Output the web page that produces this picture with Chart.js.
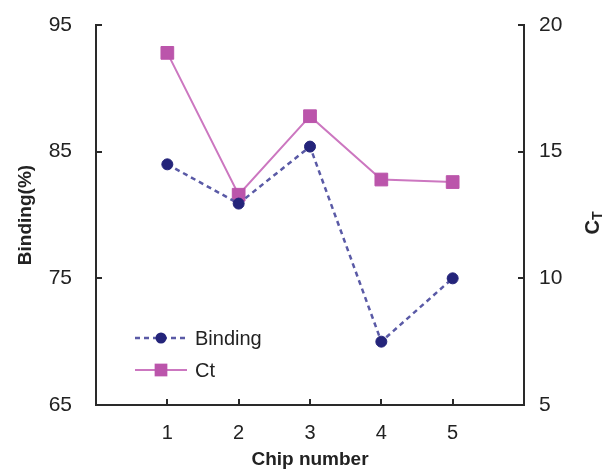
<!DOCTYPE html>
<html>
<head>
<meta charset="utf-8">
<script src="https://cdn.jsdelivr.net/npm/chart.js@4/dist/chart.umd.min.js"></script>
<style>
  html, body { margin: 0; padding: 0; background: #ffffff; }
  #wrap { width: 608px; height: 473px; position: relative; }
</style>
</head>
<body>
<div id="wrap"><canvas id="c" width="608" height="473"></canvas></div>
<script>
// ---- data ----
const chips = [1, 2, 3, 4, 5];
const bindingValues = [84.0, 80.9, 85.4, 70.0, 75.0];
const ctValues = [18.9, 13.3, 16.4, 13.9, 13.8];
const xTickLabels = [1, 2, 3, 4, 5];
const leftTicks = [65, 75, 85, 95];
const rightTicks = [5, 10, 15, 20];
const seriesNames = ['Binding', 'Ct'];
const xTitle = 'Chip number';
const leftTitle = 'Binding(%)';
const rightTitleMain = 'C';
const rightTitleSub = 'T';

const FONT = "'Liberation Sans', Arial, sans-serif";
const TXT = '#222222';
const AXIS = '#2a2a2a';
const NAVY = '#24247a';
const NAVY_LINE = '#5a5aa6';
const PINK = '#bb55ab';
const PINK_LINE = '#cc77c0';

const innerTicks = {
  id: 'innerTicks',
  afterDraw(chart) {
    const ctx = chart.ctx;
    const {x, y, y2} = chart.scales;
    const ca = chart.chartArea;
    const L = 6;
    ctx.save();
    ctx.strokeStyle = AXIS;
    ctx.lineWidth = 2;
    ctx.beginPath();
    xTickLabels.forEach(v => {
      const px = Math.round(x.getPixelForValue(v));
      ctx.moveTo(px, ca.bottom); ctx.lineTo(px, ca.bottom - L);
    });
    leftTicks.forEach(v => {
      const py = Math.round(y.getPixelForValue(v));
      ctx.moveTo(ca.left, py); ctx.lineTo(ca.left + L, py);
    });
    rightTicks.forEach(v => {
      const py = Math.round(y2.getPixelForValue(v));
      ctx.moveTo(ca.right, py); ctx.lineTo(ca.right - L, py);
    });
    ctx.stroke();
    ctx.restore();
  }
};

const extras = {
  id: 'extras',
  afterDraw(chart) {
    const ctx = chart.ctx;
    const y2 = chart.scales.y2;
    // right axis title C_T, rotated, reading bottom-to-top
    ctx.save();
    const cx = 592, cy = (y2.top + y2.bottom) / 2 + 8;
    ctx.translate(cx, cy);
    ctx.rotate(-Math.PI / 2);
    ctx.fillStyle = TXT;
    ctx.textBaseline = 'alphabetic';
    ctx.font = "bold 20px " + FONT;
    const wC = ctx.measureText(rightTitleMain).width;
    ctx.font = "bold 14px " + FONT;
    const wT = ctx.measureText(rightTitleSub).width;
    const total = wC + wT;
    ctx.font = "bold 20px " + FONT;
    ctx.fillText(rightTitleMain, -total / 2, 7);
    ctx.font = "bold 14px " + FONT;
    ctx.fillText(rightTitleSub, -total / 2 + wC, 10);
    ctx.restore();

    // legend inside plot
    const ds = chart.data.datasets;
    const rows = [
      {i: 0, y: 338},
      {i: 1, y: 370}
    ];
    const x0 = 135, x1 = 187, tx = 195;
    rows.forEach(r => {
      const d = ds[r.i];
      ctx.save();
      ctx.strokeStyle = d.borderColor;
      ctx.lineWidth = d.borderWidth;
      ctx.setLineDash(d.borderDash || []);
      ctx.beginPath();
      ctx.moveTo(x0, r.y); ctx.lineTo(x1, r.y);
      ctx.stroke();
      ctx.setLineDash([]);
      ctx.fillStyle = d.pointBackgroundColor;
      ctx.strokeStyle = d.pointBorderColor;
      ctx.lineWidth = d.pointBorderWidth;
      ctx.beginPath();
      if (d.pointStyle === 'rect') {
        const s = d.pointRadius * Math.SQRT1_2;
        ctx.rect((x0 + x1) / 2 - s, r.y - s, 2 * s, 2 * s);
      } else {
        ctx.arc((x0 + x1) / 2, r.y, d.pointRadius, 0, Math.PI * 2);
      }
      ctx.fill();
      ctx.fillStyle = TXT;
      ctx.font = "20px " + FONT;
      ctx.textBaseline = 'middle';
      ctx.fillText(d.label, tx, r.y + 1);
      ctx.restore();
    });
  }
};

function fixV(w) {
  return s => { s.width = w; s.paddingTop = 0; s.paddingBottom = 0; };
}

new Chart(document.getElementById('c'), {
  type: 'line',
  data: {
    datasets: [
      {
        label: seriesNames[0],
        data: chips.map((c, i) => ({x: c, y: bindingValues[i]})),
        yAxisID: 'y',
        borderColor: NAVY_LINE,
        borderWidth: 2.5,
        borderDash: [5, 4],
        pointStyle: 'circle',
        pointRadius: 5.5,
        pointBackgroundColor: NAVY,
        pointBorderColor: NAVY,
        pointBorderWidth: 1,
        tension: 0,
        fill: false
      },
      {
        label: seriesNames[1],
        data: chips.map((c, i) => ({x: c, y: ctValues[i]})),
        yAxisID: 'y2',
        borderColor: PINK_LINE,
        borderWidth: 2,
        pointStyle: 'rect',
        pointRadius: 9,
        pointBackgroundColor: PINK,
        pointBorderColor: PINK,
        pointBorderWidth: 1,
        tension: 0,
        fill: false
      }
    ]
  },
  options: {
    responsive: false,
    animation: false,
    devicePixelRatio: 1,
    layout: { padding: { top: 25, left: 0, right: 0, bottom: 0 } },
    plugins: {
      legend: { display: false },
      tooltip: { enabled: false }
    },
    scales: {
      x: {
        type: 'linear',
        position: 'bottom',
        min: 0,
        max: 6,
        afterBuildTicks: s => { s.ticks = xTickLabels.map(v => ({value: v})); },
        afterFit: s => { s.height = 68; s.paddingLeft = 0; s.paddingRight = 0; },
        grid: { display: false, drawTicks: false },
        border: { display: true, color: AXIS, width: 2 },
        ticks: {
          color: TXT,
          padding: 16,
          maxRotation: 0,
          font: { family: FONT, size: 20 }
        },
        title: {
          display: true,
          text: xTitle,
          color: TXT,
          font: { family: FONT, size: 19, weight: 'bold' },
          padding: { top: 0, bottom: 2 }
        }
      },
      y: {
        type: 'linear',
        position: 'left',
        min: 65,
        max: 95,
        afterBuildTicks: s => { s.ticks = leftTicks.map(v => ({value: v})); },
        afterFit: fixV(96),
        grid: { display: false, drawTicks: false },
        border: { display: true, color: AXIS, width: 2 },
        ticks: {
          color: TXT,
          padding: 24,
          font: { family: FONT, size: 21 }
        },
        title: {
          display: true,
          text: leftTitle,
          color: TXT,
          font: { family: FONT, size: 19, weight: 'bold' },
          padding: { top: 14, bottom: 0 }
        }
      },
      y2: {
        type: 'linear',
        position: 'right',
        min: 5,
        max: 20,
        afterBuildTicks: s => { s.ticks = rightTicks.map(v => ({value: v})); },
        afterFit: fixV(84),
        grid: { display: false, drawTicks: false },
        border: { display: true, color: AXIS, width: 2 },
        ticks: {
          color: TXT,
          padding: 15,
          font: { family: FONT, size: 21 }
        }
      }
    }
  },
  plugins: [innerTicks, extras]
});
</script>
</body>
</html>
